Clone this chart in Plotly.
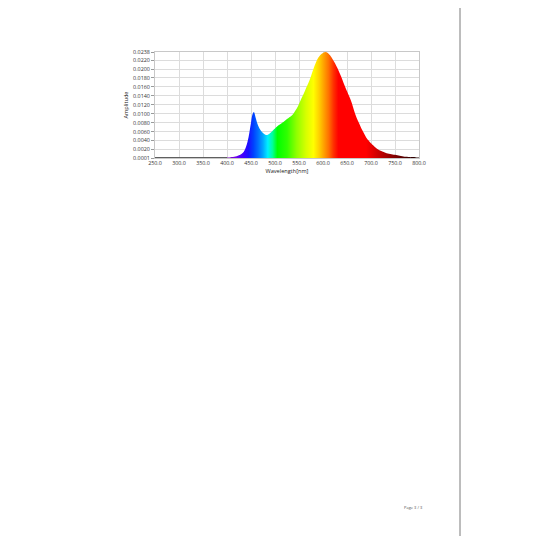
import plotly.graph_objects as go

# Spectrum (wavelength nm, amplitude)
wavelength = [250, 260, 270, 280, 290, 300, 310, 320, 330, 340, 350, 360, 370,
              380, 385, 390, 395, 400, 405, 410, 415, 420, 425, 430, 435, 440,
              445, 450, 453, 456, 460, 465, 470, 475, 480, 485, 490, 495, 500,
              505, 510, 515, 520, 525, 530, 535, 540, 545, 550, 555, 560, 565,
              570, 575, 580, 585, 590, 595, 600, 605, 610, 615, 620, 625, 630,
              635, 640, 645, 650, 655, 660, 665, 670, 675, 680, 685, 690, 695,
              700, 705, 710, 715, 720, 725, 730, 735, 740, 745, 750, 755, 760,
              765, 770, 775, 780, 785, 790, 795, 800]
amplitude = [0.0002, 0.0002, 0.0002, 0.0002, 0.0002, 0.0002, 0.0002, 0.0002,
             0.0002, 0.0002, 0.0002, 0.0002, 0.0002,
             0.0002, 0.0002, 0.0002, 0.0002, 0.0002, 0.0002, 0.0003, 0.0004,
             0.0005, 0.0007, 0.0010, 0.0015, 0.0027,
             0.0048, 0.0080, 0.0098, 0.0104, 0.0090, 0.0073, 0.0063, 0.0057,
             0.0053, 0.0053, 0.0057, 0.0062, 0.0067,
             0.0072, 0.0076, 0.0080, 0.0084, 0.0088, 0.0092, 0.0096, 0.0103,
             0.0111, 0.0122, 0.0134, 0.0145, 0.0158,
             0.0170, 0.0184, 0.0200, 0.0214, 0.0225, 0.0232, 0.0236, 0.0238,
             0.0236, 0.0230, 0.0222, 0.0213, 0.0202,
             0.0190, 0.0177, 0.0163, 0.0150, 0.0138, 0.0124, 0.0106, 0.0091,
             0.0079, 0.0067, 0.0057, 0.0047, 0.0040,
             0.0034, 0.0029, 0.0024, 0.0020, 0.0017, 0.0015, 0.0013, 0.0011,
             0.0010, 0.0009, 0.0008, 0.0007, 0.0006,
             0.0005, 0.0004, 0.0004, 0.0003, 0.0003, 0.0003, 0.0002, 0.0002]

# colour of the fill along the wavelength axis
color_nm = [380, 400, 420, 435, 445, 455, 465, 475, 485, 495, 505, 525, 545,
            565, 580, 592, 602, 612, 622, 632, 690, 720, 750, 780, 800]
color_hex = ["#5a0070", "#7a00b0", "#6a00f0", "#3c00ff", "#1a10ff", "#0040ff",
             "#0070ff", "#00a8ff", "#00f0ff", "#00ff9a", "#00ff00", "#30ff00",
             "#90ff00", "#d8ff00", "#ffff00", "#ffd000", "#ffa000", "#ff7000",
             "#ff3000", "#ff0000", "#ff0000", "#c00000", "#800000", "#3a0000",
             "#1a0000"]

y_ticks = [0.0001, 0.0020, 0.0040, 0.0060, 0.0080, 0.0100, 0.0120, 0.0140,
           0.0160, 0.0180, 0.0200, 0.0220, 0.0238]

lo, hi = color_nm[0], color_nm[-1]
scale = [[(w - lo) / (hi - lo), c] for w, c in zip(color_nm, color_hex)]

fig = go.Figure()
fig.add_trace(go.Scatter(
    x=wavelength, y=amplitude, mode="lines", line=dict(width=0, shape="spline"),
    fill="tozeroy",
    fillgradient=dict(type="horizontal", colorscale=scale, start=lo, stop=hi),
    showlegend=False, hoverinfo="skip"))

# flat grey baseline before the light starts
base = [(w, a) for w, a in zip(wavelength, amplitude) if w <= 400]
fig.add_trace(go.Scatter(
    x=[b[0] for b in base], y=[b[1] for b in base], mode="lines",
    line=dict(color="#5f5f5f", width=1.3), showlegend=False, hoverinfo="skip"))

tick_font = dict(family="Open Sans", size=5.4, color="#333333")

fig.update_xaxes(
    range=[250, 800], dtick=50, tick0=250, tickformat=".1f",
    showgrid=True, gridcolor="#dcdcdc", gridwidth=1,
    showline=True, linecolor="#c8c8c8", mirror=True, zeroline=False,
    ticks="", tickfont=tick_font,
    title=dict(text="Wavelength[nm]", font=dict(family="Open Sans", size=5.6, color="#202020"),
               standoff=1))
fig.update_yaxes(
    range=[0.0001, 0.0238], tickvals=y_ticks,
    ticktext=["%.4f" % v for v in y_ticks],
    showgrid=True, gridcolor="#dcdcdc", gridwidth=1,
    showline=True, linecolor="#c8c8c8", mirror=True, zeroline=False,
    ticks="outside", ticklen=3, tickcolor="#9a9a9a", tickfont=tick_font,
    title=dict(text="Amplitude", font=dict(family="Open Sans", size=5.6, color="#202020"),
               standoff=4))

# page edge and footer of the scanned report
fig.add_shape(type="line", xref="paper", yref="paper",
              x0=(459 - 154) / 264, x1=(459 - 154) / 264, y0=-4, y1=1.6,
              line=dict(color="#7a7a7a", width=1))
fig.add_annotation(text="Page 3 / 3", xref="paper", yref="paper",
                   x=(424 - 154) / 264, y=(157 - 511) / 106, showarrow=False,
                   font=dict(family="Open Sans", size=4, color="#555555"))

fig.update_layout(
    width=536, height=536, autosize=False,
    margin=dict(l=147, r=125, t=44, b=386),
    paper_bgcolor="white", plot_bgcolor="white")

fig.write_html("out.html")
